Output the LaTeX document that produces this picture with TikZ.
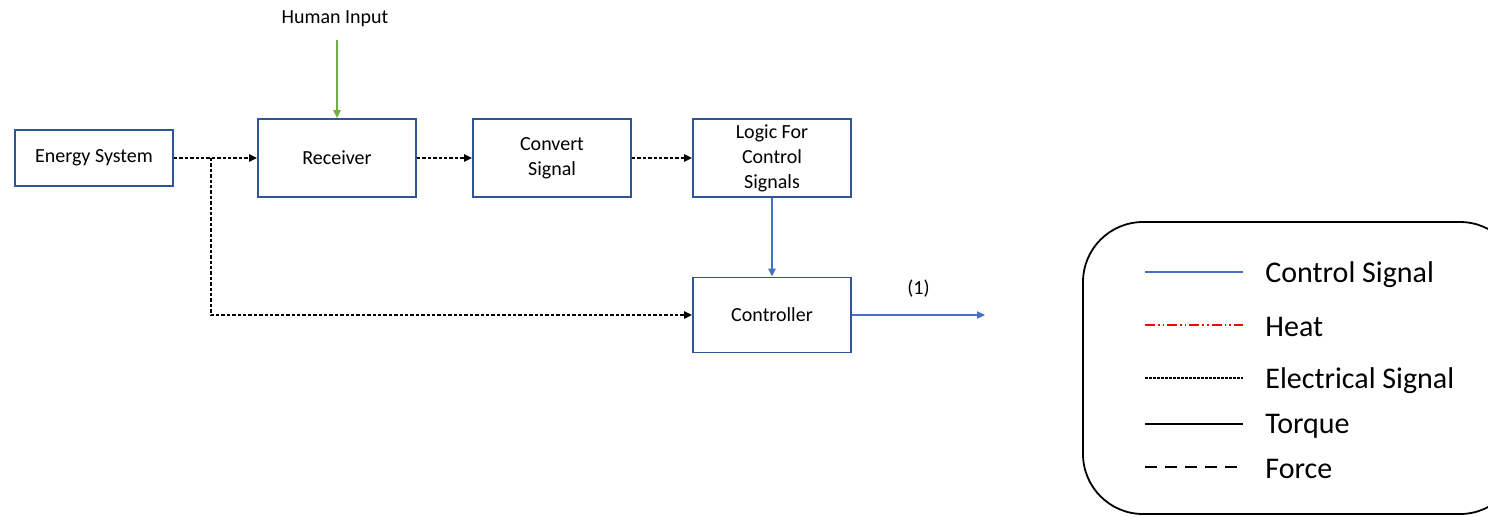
\documentclass[tikz,border=0pt]{standalone}
\usepackage{fontspec}
\setmainfont{Carlito}
\usetikzlibrary{arrows.meta}
\definecolor{boxblue}{HTML}{2F5597}
\definecolor{ctrlblue}{HTML}{4472C4}
\definecolor{humangreen}{HTML}{70AD47}
\begin{document}
\begin{tikzpicture}[x=0.5pt,y=-0.5pt,
  boxfont/.style={font=\fontsize{10}{12.5}\selectfont},
  block/.style={draw=boxblue,line width=0.9pt,minimum width=79pt,minimum height=39pt,
    align=center,boxfont,inner sep=1pt},
  smallblock/.style={block,minimum height=28pt},
  elec/.style={line width=1pt,dash pattern=on 1.7pt off 1pt,-{Triangle[length=4pt,width=3.6pt]}},
  ctrl/.style={draw=ctrlblue,line width=0.8pt,-{Triangle[length=4pt,width=3.6pt]}},
  human/.style={draw=humangreen,line width=0.8pt,-{Triangle[length=4pt,width=3.6pt]}},
  legline/.style={line width=0.7pt},
  legtext/.style={anchor=west,font=\fontsize{15}{17}\selectfont,inner sep=0pt,yshift=-1.2pt}
]
\useasboundingbox (0,0) rectangle (1488,516);

% blocks
\node[smallblock] (energy) at (94,158) {Energy System};
\node[block] (recv) at (337,158) {Receiver};
\node[block] (conv) at (552,158) {Convert\\Signal};
\node[block] (logic) at (772,158) {Logic For\\Control\\Signals};
\node[block,minimum height=37.5pt] (ctrlr) at (772,315) {Controller};

% human input
\node[boxfont] (hin) at (335,19) {Human Input};
\coordinate (hstart) at (337,40);
\draw[human] (hstart) -- (recv.north);

% electrical signal path
\coordinate (split) at (211,158);
\coordinate (corner) at (211,315);
\draw[elec] (energy.east) -- (recv.west);
\draw[elec] (recv.east) -- (conv.west);
\draw[elec] (conv.east) -- (logic.west);
\draw[elec] (split) -- (corner) -- (ctrlr.west);

% control signals
\draw[ctrl] (logic.south) -- (ctrlr.north);
\coordinate (outend) at (985,315);
\draw[ctrl] (ctrlr.east) -- node[above=5pt,boxfont,text=black] (one) {(1)} (outend);

% legend
\draw[line width=0.9pt,rounded corners=30pt] (1083,222) rectangle (1520,514);
\coordinate (l1a) at (1145,272); \coordinate (l1b) at (1243,272);
\coordinate (l2a) at (1145,325); \coordinate (l2b) at (1243,325);
\coordinate (l3a) at (1145,378); \coordinate (l3b) at (1243,378);
\coordinate (l4a) at (1145,424); \coordinate (l4b) at (1243,424);
\coordinate (l5a) at (1145,467); \coordinate (l5b) at (1243,467);
\draw[legline,ctrlblue] (l1a) -- (l1b);
\draw[legline,red,line width=0.9pt,dash pattern=on 5pt off 1.5pt on 0.8pt off 1.5pt on 0.8pt off 1.5pt] (l2a) -- (l2b);
\draw[legline,line width=0.6pt,dash pattern=on 1.3pt off 0.7pt] (l3a) -- (l3b);
\draw[legline] (l4a) -- (l4b);
\draw[legline,dash pattern=on 6pt off 4pt] (l5a) -- (l5b);
\node[legtext] (t1) at (1265,272) {Control Signal};
\node[legtext] (t2) at (1265,325) {Heat};
\node[legtext] (t3) at (1265,378) {Electrical Signal};
\node[legtext] (t4) at (1265,424) {Torque};
\node[legtext] (t5) at (1265,467) {Force};
\end{tikzpicture}
\end{document}
